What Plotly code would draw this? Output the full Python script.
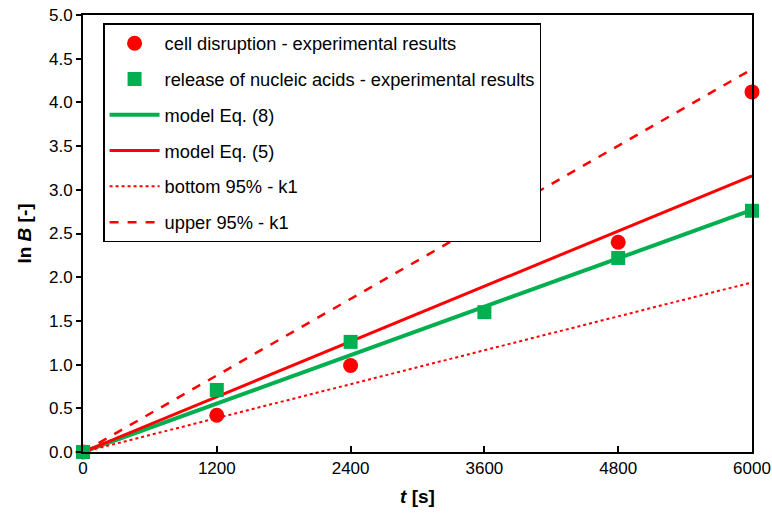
import plotly.graph_objects as go

# Experimental data
t_cell = [0, 1200, 2400, 4800, 6000]
lnB_cell = [0.0, 0.42, 0.99, 2.40, 4.12]
t_na = [0, 1200, 2400, 3600, 4800, 6000]
lnB_na = [0.0, 0.71, 1.26, 1.60, 2.22, 2.76]

# Model lines
t_model = [0, 6000]
model_eq8 = [0.0, 2.77]
model_eq5 = [0.0, 3.16]
bottom_95 = [0.0, 1.94]
upper_95 = [0.0, 4.38]

x_ticks = [0, 1200, 2400, 3600, 4800, 6000]
y_ticks = [0.0, 0.5, 1.0, 1.5, 2.0, 2.5, 3.0, 3.5, 4.0, 4.5, 5.0]

RED = "#ff0000"
GREEN = "#00b050"

fig = go.Figure()
fig.add_trace(go.Scatter(x=t_model, y=model_eq8, mode="lines", name="model Eq. (8)",
                         line=dict(color=GREEN, width=4), legendrank=3, legendgroup="c"))
fig.add_trace(go.Scatter(x=t_model, y=model_eq5, mode="lines", name="model Eq. (5)",
                         line=dict(color=RED, width=3), legendrank=4, legendgroup="d"))
fig.add_trace(go.Scatter(x=t_model, y=bottom_95, mode="lines", name="bottom 95% - k1",
                         line=dict(color=RED, width=2, dash="dot"), legendrank=5, legendgroup="e"))
fig.add_trace(go.Scatter(x=t_model, y=upper_95, mode="lines", name="upper 95% - k1",
                         line=dict(color=RED, width=2.5, dash="dash"), legendrank=6, legendgroup="f"))
fig.add_trace(go.Scatter(x=t_cell, y=lnB_cell, mode="markers", name="cell disruption - experimental results",
                         marker=dict(color=RED, size=15, symbol="circle"), cliponaxis=False,
                         legendrank=1, legendgroup="a"))
fig.add_trace(go.Scatter(x=t_na, y=lnB_na, mode="markers", name="release of nucleic acids - experimental results",
                         marker=dict(color=GREEN, size=14, symbol="square"), cliponaxis=False,
                         legendrank=2, legendgroup="b"))

fig.update_layout(
    width=772, height=515,
    margin=dict(l=83, r=20, t=15, b=63),
    paper_bgcolor="white", plot_bgcolor="white",
    font=dict(family="Liberation Sans, Arial, sans-serif", size=18, color="black"),
    showlegend=True,
    legend=dict(x=0.03, y=0.981, xanchor="left", yanchor="top",
                bordercolor="black", borderwidth=1.5, bgcolor="white",
                font=dict(size=18.3), tracegroupgap=9, traceorder="grouped",
                itemwidth=50),
)
fig.update_xaxes(range=[0, 6000], tickvals=x_ticks, ticktext=[str(v) for v in x_ticks],
                 showgrid=False, zeroline=False, showline=True, linecolor="black", linewidth=2,
                 mirror=True, ticks="inside", ticklen=6, tickwidth=2, tickcolor="black",
                 tickfont=dict(size=17), automargin=False,
                 title=dict(text="<b><i>t</i> [s]</b>", font=dict(size=19), standoff=12))
fig.update_yaxes(range=[0, 5.0], tickvals=y_ticks, ticktext=[f"{v:.1f}" for v in y_ticks],
                 showgrid=False, zeroline=False, showline=True, linecolor="black", linewidth=2,
                 mirror=True, ticks="outside", ticklen=5, tickwidth=2, tickcolor="black",
                 tickfont=dict(size=17), automargin=False,
                 title=dict(text="<b>ln <i>B</i> [-]</b>", font=dict(size=19), standoff=12))

fig.write_html("out.html")
